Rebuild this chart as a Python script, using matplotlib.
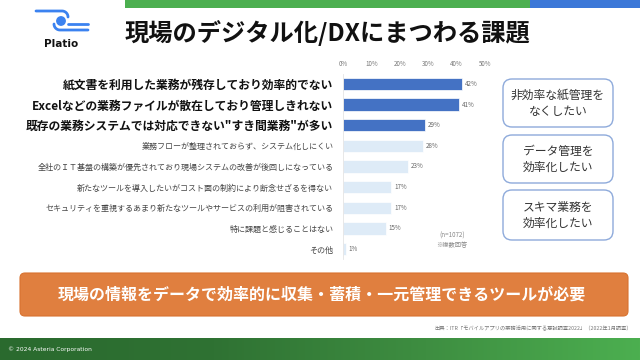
import numpy as np
import matplotlib
matplotlib.use("Agg")
import matplotlib.pyplot as plt
from matplotlib.patches import FancyBboxPatch, Rectangle, Circle

plt.rcParams['font.family'] = ['Noto Sans CJK JP', 'DejaVu Sans']

title = "現場のデジタル化/DXにまつわる課題"
categories = [
    "紙文書を利用した業務が残存しており効率的でない",
    "Excelなどの業務ファイルが散在しており管理しきれない",
    "既存の業務システムでは対応できない\"すき間業務\"が多い",
    "業務フローが整理されておらず、システム化しにくい",
    "全社のＩＴ基盤の構築が優先されており現場システムの改善が後回しになっている",
    "新たなツールを導入したいがコスト面の制約により断念せざるを得ない",
    "セキュリティを重視するあまり新たなツールやサービスの利用が阻害されている",
    "特に課題と感じることはない",
    "その他",
]
values = [42, 41, 29, 28, 23, 17, 17, 15, 1]
n_top = 3
xticks = [0, 10, 20, 30, 40, 50]
box_texts = ["非効率な紙管理を\nなくしたい", "データ管理を\n効率化したい", "スキマ業務を\n効率化したい"]
banner = "現場の情報をデータで効率的に収集・蓄積・一元管理できるツールが必要"
source = "出典：ITR「モバイルアプリの業務活用に関する意識調査2022」（2022年1月調査）"
note = "(n=1072)\n※複数回答"
footer = "© 2024 Asteria Corporation"

W, H = 640, 360
fig = plt.figure(figsize=(6.4, 3.6), dpi=100)

# background axes in pixel coords
bg = fig.add_axes([0, 0, 1, 1])
bg.set_xlim(0, W)
bg.set_ylim(H, 0)
bg.axis('off')

# top color strip
bg.add_patch(Rectangle((125, 0), 405, 8, color='#4CAF50', lw=0))
bg.add_patch(Rectangle((530, 0), 110, 8, color='#3C78D8', lw=0))

# logo
blue = '#3B82F0'
t = np.linspace(0, np.pi / 2, 20)
top_x = np.concatenate([[36], 62 + 6 * np.sin(t)])
top_y = np.concatenate([[11], 17 - 6 * np.cos(t)])
bg.plot(top_x, top_y, color=blue, lw=2.0, solid_capstyle='round')
bot_x = np.concatenate([54 + 6 * (1 - np.cos(t)), [88]])
bot_y = np.concatenate([24 + 6 * np.sin(t), [30]])
bg.plot(bot_x, bot_y, color=blue, lw=2.0, solid_capstyle='round')
bg.add_patch(Circle((61, 21), 4.2, color=blue))
bg.plot([68, 88], [24, 24], color=blue, lw=2.0, solid_capstyle='round')
bg.text(61, 44, "Platio", fontsize=7.5, fontweight='bold', ha='center', va='center',
        color='#111111', family=['DejaVu Sans'])

# title
bg.text(125, 33, title, fontsize=17.5, fontweight='bold', ha='left', va='center', color='#111111')

# right boxes
box_y = [(79, 127), (135, 183), (190, 240)]
for (y0, y1), txt in zip(box_y, box_texts):
    bg.add_patch(FancyBboxPatch((503, y0), 110, y1 - y0,
                                boxstyle="round,pad=0,rounding_size=9",
                                fc='white', ec='#8EAADB', lw=1.0))
    bg.text(558, (y0 + y1) / 2, txt, fontsize=8.5, ha='center', va='center',
            color='#333333', linespacing=1.3)

# note
bg.text(452, 240, note, fontsize=4.5, ha='center', va='center', color='#888888', linespacing=1.3)

# orange banner
bg.add_patch(FancyBboxPatch((20, 273), 608, 43,
                            boxstyle="round,pad=0,rounding_size=5",
                            fc='#E07F3F', ec='#D8722F', lw=0.8))
bg.text(322, 294.5, banner, fontsize=11.5, fontweight='bold', ha='center', va='center', color='white')

# source
bg.text(632, 329, source, fontsize=3.8, ha='right', va='center', color='#777777')

# footer gradient
grad = np.linspace(0, 1, 256).reshape(1, -1)
cmap = matplotlib.colors.LinearSegmentedColormap.from_list('g', ['#2A6A2E', '#2F7233', '#3E8E41', '#4CAF50'])
bg.imshow(grad, extent=(0, W, H, 338), aspect='auto', cmap=cmap, zorder=0)
bg.set_xlim(0, W)
bg.set_ylim(H, 0)
bg.text(8, 349, footer, fontsize=4.3, ha='left', va='center', color='white', family=['DejaVu Sans'])

# bar chart
top_px, bot_px = 73.7, 259.3
left_px, right_px = 343, 485
ax = fig.add_axes([left_px / W, 1 - bot_px / H, (right_px - left_px) / W, (bot_px - top_px) / H])
ax.patch.set_alpha(0)
y = np.arange(len(categories))
colors = ['#4472C4' if i < n_top else '#DEEBF7' for i in range(len(categories))]
ax.barh(y, values, height=0.6, color=colors, edgecolor='white', lw=0.5)
ax.set_xlim(0, 50)
ax.set_ylim(len(categories) - 0.5, -0.5)
ax.xaxis.tick_top()
ax.set_xticks(xticks)
ax.set_xticklabels([f"{v}%" for v in xticks], fontsize=4.5, color='#777777')
ax.tick_params(axis='x', length=0, pad=4)
ax.set_yticks(y)
ax.set_yticklabels(categories)
ax.tick_params(axis='y', length=0, pad=7)
for i, lab in enumerate(ax.get_yticklabels()):
    if i < n_top:
        lab.set_fontsize(8.5)
        lab.set_fontweight('bold')
        lab.set_color('#111111')
    else:
        lab.set_fontsize(5.8)
        lab.set_color('#444444')
for i, v in enumerate(values):
    ax.text(v + 1, i, f"{v}%", fontsize=4.5, va='center', ha='left', color='#666666')
for s in ax.spines.values():
    s.set_visible(False)
ax.spines['left'].set_visible(True)
ax.spines['left'].set_color('#E4E4E4')
ax.spines['left'].set_linewidth(0.6)

fig.savefig("out.png", dpi=100)
